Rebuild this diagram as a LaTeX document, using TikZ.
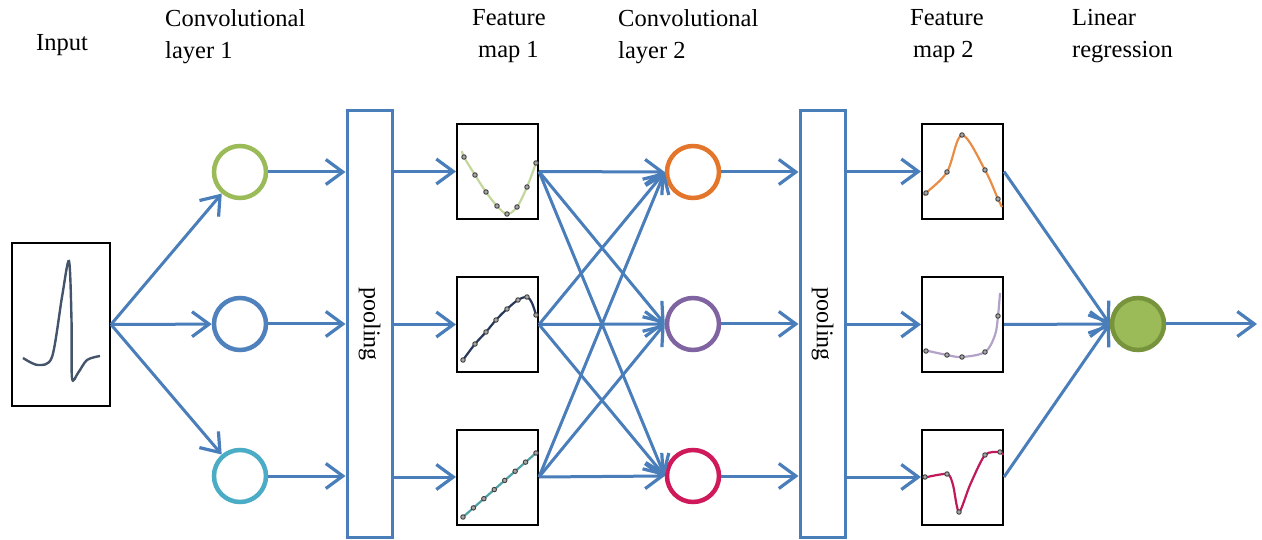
\documentclass[tikz,border=0pt]{standalone}
\usepackage{fontspec}
\setmainfont{Liberation Serif}
\usetikzlibrary{arrows.meta}
\definecolor{abl}{RGB}{74,126,187}
\definecolor{cgreen}{RGB}{155,187,89}
\definecolor{cblue}{RGB}{79,129,189}
\definecolor{ccyan}{RGB}{75,172,198}
\definecolor{corange}{RGB}{228,118,43}
\definecolor{cpurple}{RGB}{128,100,162}
\definecolor{cmag}{RGB}{208,25,91}
\definecolor{dkgreen}{RGB}{119,147,60}
\definecolor{wave}{RGB}{68,84,106}
\tikzset{
  conn/.style={draw=abl, line width=3pt, -{Straight Barb[length=17pt,width=25pt,line width=3.2pt]}},
  neuron/.style={circle, draw=#1, line width=4.5pt, fill=white, minimum size=52pt, inner sep=0pt},
  poolbox/.style={draw=abl, line width=3pt, minimum width=45pt, minimum height=426pt, inner sep=0pt, fill=white},
  fmbox/.style={draw=black, line width=2pt, minimum width=81pt, minimum height=95pt, inner sep=0pt},
  title/.style={anchor=north west, align=left, inner sep=0pt, font=\fontsize{24.5}{32}\selectfont},
  dot/.style={circle, draw=black!75, fill=black!35, line width=0.9pt, minimum size=4.5pt, inner sep=0pt},
  curve/.style={line width=2.2pt, smooth, tension=0.55}
}
\begin{document}
\begin{tikzpicture}[x=1pt,y=-1pt]
\useasboundingbox (0,0) rectangle (1262,540);

% titles
\node[title] (tin) at (36,34) {Input};
\node[title] (tc1) at (165,9) {Convolutional\\layer 1};
\node[title] (tf1) at (472,9) {Feature\\\hspace{6pt}map 1};
\node[title] (tc2) at (618,9) {Convolutional\\layer 2};
\node[title] (tf2) at (910,9) {Feature\\\hspace{3pt}map 2};
\node[title] (tlr) at (1072,9) {Linear\\regression};

% input
\node[draw=black, line width=2pt, minimum width=98pt, minimum height=163pt, inner sep=0pt] (in) at (61,324.5) {};
\draw[wave, line width=2.4pt, smooth, tension=0.5] plot coordinates {(23,358) (38,365) (52,357) (62,297) (69,261) (71.5,320) (72,378) (78,373) (87,360) (100,356)};

% conv layer 1
\node[neuron=cgreen] (c1a) at (240,172) {};
\node[neuron=cblue] (c1b) at (240,324) {};
\node[neuron=ccyan] (c1c) at (240,476) {};

% pooling 1
\node[poolbox] (p1) at (369.5,324) {\rotatebox{-90}{\fontsize{24}{28}\selectfont pooling}};

% feature map 1
\node[fmbox] (f1a) at (497.5,171.5) {};
\node[fmbox] (f1b) at (497.5,324.5) {};
\node[fmbox] (f1c) at (497.5,477) {};

% conv layer 2
\node[neuron=corange] (c2a) at (693,172) {};
\node[neuron=cpurple] (c2b) at (693,324) {};
\node[neuron=cmag] (c2c) at (693,476) {};

% pooling 2
\node[poolbox] (p2) at (822.5,324) {\rotatebox{-90}{\fontsize{24}{28}\selectfont pooling}};

% feature map 2
\node[fmbox] (f2a) at (962.5,171.5) {};
\node[fmbox] (f2b) at (962.5,324.5) {};
\node[fmbox] (f2c) at (962.5,477) {};

% output
\node[circle, draw=dkgreen, fill=cgreen, line width=4.5pt, minimum size=52pt, inner sep=0pt] (out) at (1138,324) {};
\coordinate (end) at (1257,324);

% curves fm1
\draw[curve, draw={rgb,255:red,195;green,214;blue,155}] plot coordinates {(462,151) (464,157) (475,175) (486,192) (497,206) (507,214) (517,207) (527,187) (536,163)};
\foreach \p in {(464,157),(475,175),(486,192),(497,206),(507,214),(517,207),(527,187),(536,163)} \node[dot] at \p {};
\draw[curve, draw={rgb,255:red,40;green,56;blue,90}] plot coordinates {(463,360) (475,344) (486,332) (496,320) (507,309) (518,300) (527,297) (532,303) (536,315)};
\foreach \p in {(463,360),(475,344),(486,332),(496,320),(507,309),(518,300),(527,297),(536,315)} \node[dot] at \p {};
\draw[line width=2.2pt, draw={rgb,255:red,80;green,160;blue,165}] (463,517) -- (536,453);
\foreach \i in {0,...,7} \node[dot] at ({463+\i*73/7},{517-\i*64/7}) {};

% curves fm2
\draw[curve, draw={rgb,255:red,232;green,140;blue,70}] plot coordinates {(924,195) (926,193) (947,172) (962,135) (985,170) (998,199) (1002,207)};
\foreach \p in {(926,193),(947,172),(962,135),(985,170),(998,199)} \node[dot] at \p {};
\draw[curve, draw={rgb,255:red,179;green,162;blue,199}] plot coordinates {(924,350) (947,355) (962,357) (985,352) (995,335) (998,316) (1000,293)};
\foreach \p in {(926,351),(947,355),(962,357),(985,352),(998,316)} \node[dot] at \p {};
\draw[curve, tension=0.45, draw={rgb,255:red,192;green,24;blue,90}] plot coordinates {(923,478) (947,474) (953,485) (959,512) (970,485) (985,455) (1000,452) (1003,455)};
\foreach \p in {(925,477),(947,474),(959,512),(985,455),(1000,452)} \node[dot] at \p {};

% connectors
\foreach \c in {c1a,c1b,c1c} \draw[conn] (in.east) -- (\c);
\foreach \c in {c1a,c1b,c1c} \draw[conn] (\c.east) -- (\c.east -| p1.west);
\foreach \f in {f1a,f1b,f1c} \draw[conn] (p1.east |- \f.west) -- (\f.west);
\foreach \f in {f1a,f1b,f1c} \foreach \c in {c2a,c2b,c2c} \draw[conn] (\f.east) -- (\c.west);
\foreach \c in {c2a,c2b,c2c} \draw[conn] (\c.east) -- (\c.east -| p2.west);
\foreach \f in {f2a,f2b,f2c} \draw[conn] (p2.east |- \f.west) -- (\f.west);
\foreach \f in {f2a,f2b,f2c} \draw[conn] (\f.east) -- (out.west);
\draw[conn] (out.east) -- (end);
\end{tikzpicture}
\end{document}
